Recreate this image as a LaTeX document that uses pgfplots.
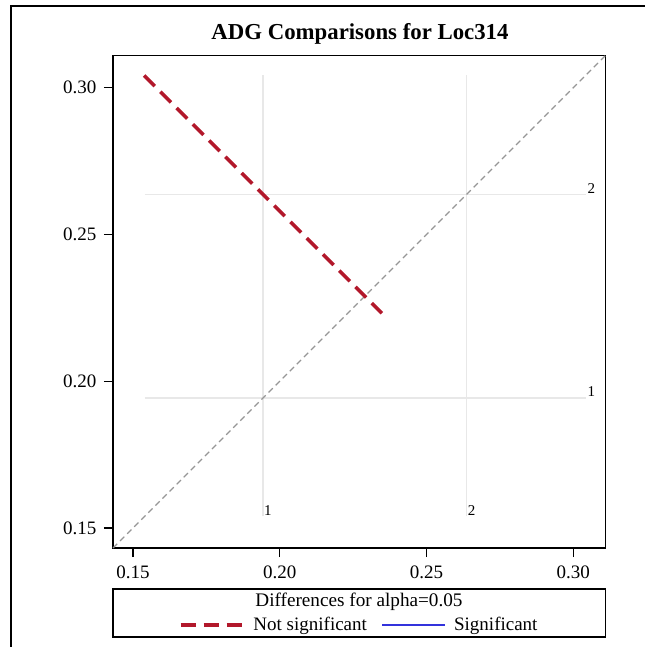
\documentclass[border=0pt]{standalone}
\usepackage{pgfplots}
\pgfplotsset{compat=1.18}
\usepackage{fontspec}
\setmainfont{Liberation Serif}

\definecolor{nsred}{RGB}{178,24,43}
\definecolor{sigblue}{RGB}{50,50,220}
\definecolor{refgray}{RGB}{232,232,232}
\definecolor{diaggray}{RGB}{150,150,150}

\begin{document}
\begin{tikzpicture}[x=1pt,y=1pt]
  \useasboundingbox (0,0) rectangle (645,647);
  % outer frame (left and top sides only are visible)
  \draw[line width=1.6pt] (11,0) -- (11,641) -- (645,641);
  % title
  \node[font=\fontsize{22.8}{25}\selectfont\bfseries] at (360,613) {ADG Comparisons for Loc314};

  \begin{axis}[
      at={(113pt,99pt)}, anchor=south west,
      scale only axis,
      width=492.5pt, height=492.5pt,
      xmin=0.1432, xmax=0.3110,
      ymin=0.1432, ymax=0.3110,
      xtick={0.15,0.20,0.25,0.30},
      ytick={0.15,0.20,0.25,0.30},
      xticklabel style={/pgf/number format/.cd,fixed,fixed zerofill,precision=2,/tikz/.cd,yshift=-5pt},
      yticklabel style={/pgf/number format/.cd,fixed,fixed zerofill,precision=2,/tikz/.cd,xshift=-4pt},
      /pgf/number format/assume math mode=true,
      tick label style={font=\fontsize{19}{21}\selectfont},
      tick align=outside,
      major tick length=9pt,
      tick style={black, line width=1.2pt},
      xtick pos=bottom, ytick pos=left,
      axis line style={line width=1.6pt},
      clip=false,
      legend columns=2,
      legend style={at={(0.5,-0.1563)}, anchor=center, draw=none, fill=none,
        font=\fontsize{19}{21}\selectfont,
        /tikz/every odd column/.append style={column sep=6pt},
        /tikz/every even column/.append style={column sep=12pt}},
      legend image code/.code={\draw[#1] (0pt,0pt) -- (63pt,0pt);},
    ]
    % reference lines at the group means
    \addplot[refgray, line width=1.4pt, forget plot] coordinates {(0.1943,0.1540) (0.1943,0.3045)};
    \addplot[refgray, line width=1.4pt, forget plot] coordinates {(0.2637,0.1540) (0.2637,0.3045)};
    \addplot[refgray, line width=1.4pt, forget plot] coordinates {(0.1540,0.1943) (0.3045,0.1943)};
    \addplot[refgray, line width=1.4pt, forget plot] coordinates {(0.1540,0.2637) (0.3045,0.2637)};
    % diagonal
    \addplot[diaggray, line width=1.1pt, dash pattern=on 6pt off 4pt, forget plot]
      coordinates {(0.1432,0.1432) (0.3110,0.3110)};
    % comparison 1 vs 2
    \addplot[nsred, line width=3.5pt, dash pattern=on 15pt off 8pt]
      coordinates {(0.1538,0.3042) (0.2348,0.2232)};
    \addlegendentry{Not significant}
    \addlegendimage{sigblue, line width=2.2pt}
    \addlegendentry{Significant}

    \node[anchor=south west, inner sep=1pt, font=\fontsize{15}{17}\selectfont] at (axis cs:0.1943,0.1540) {1};
    \node[anchor=south west, inner sep=1pt, font=\fontsize{15}{17}\selectfont] at (axis cs:0.2637,0.1540) {2};
    \node[anchor=south west, inner sep=1pt, font=\fontsize{15}{17}\selectfont] at (axis cs:0.3045,0.1943) {1};
    \node[anchor=south west, inner sep=1pt, font=\fontsize{15}{17}\selectfont] at (axis cs:0.3045,0.2637) {2};
  \end{axis}

  % legend frame and title
  \draw[line width=1.2pt] (113,10) rectangle (605.5,58);
  \node[font=\fontsize{19.2}{21}\selectfont] at (359,45) {Differences for alpha=0.05};
\end{tikzpicture}
\end{document}
